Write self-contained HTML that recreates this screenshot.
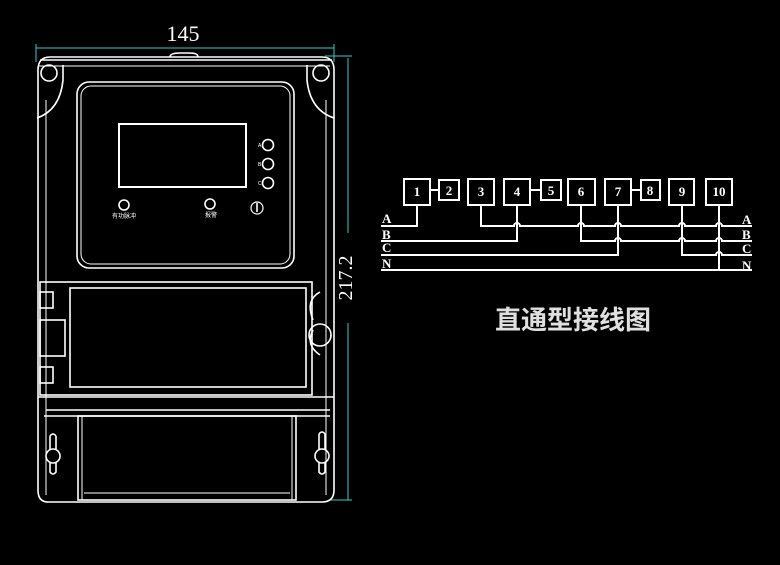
<!DOCTYPE html>
<html><head><meta charset="utf-8"><style>
html,body{margin:0;padding:0;background:#000;}
svg{display:block}
</style></head><body>
<svg width="780" height="565" viewBox="0 0 780 565" xmlns="http://www.w3.org/2000/svg">
<rect width="780" height="565" fill="#000"/>
<g stroke="#3cc" stroke-width="1" fill="none">
<line x1="36" y1="48" x2="334" y2="48"/>
<line x1="36" y1="44" x2="36" y2="62"/><line x1="334" y1="44" x2="334" y2="62"/>
<line x1="348" y1="58" x2="348" y2="233"/><line x1="348" y1="323" x2="348" y2="500"/>
<line x1="325" y1="56" x2="352" y2="56"/><line x1="330" y1="500" x2="352" y2="500"/>
</g>
<text x="183" y="41" font-family="Liberation Serif, serif" font-size="22" fill="#fff" text-anchor="middle">145</text>
<text transform="translate(352,278) rotate(-90)" font-family="Liberation Serif, serif" font-size="20" fill="#fff" text-anchor="middle">217.2</text>
<g stroke="#fff" stroke-width="1.6" fill="none">
<path d="M50 57 H322 Q334 57 334 70 V490 Q334 502 322 502 H48 Q38 502 38 490 V70 Q38 57 50 57Z"/>
<path d="M40 60 H332" />
<path d="M38 66 H330" stroke-width="1"/>
<line x1="46" y1="100" x2="46" y2="495" stroke-width="1"/>
<line x1="326" y1="100" x2="326" y2="495" stroke-width="1"/>
<path d="M37 118 Q60 110 63 80 V65" />
<path d="M334 118 Q310 110 307 80 V65" />
<circle cx="49" cy="73" r="8"/><circle cx="321" cy="73" r="8"/>
<path d="M170 57 Q170 53 180 53 H190 Q198 53 198 57"/>
<rect x="77" y="82" width="217" height="186" rx="12"/>
<rect x="81" y="86" width="209" height="178" rx="10" stroke-width="1"/>
<rect x="119" y="124" width="127" height="63" stroke-width="2"/>
<circle cx="268" cy="145" r="5.5"/><circle cx="268" cy="164" r="5.5"/><circle cx="268" cy="183" r="5.5"/>
<circle cx="124" cy="205" r="5"/><circle cx="210" cy="204" r="5"/>
<circle cx="257" cy="208" r="6" stroke-width="1.2"/><line x1="257" y1="203" x2="257" y2="212"/>
<rect x="40" y="282" width="272" height="113"/>
<rect x="70" y="288" width="236" height="99"/>
<path d="M320 292 Q305 300 313 320 M320 355 Q305 345 313 330"/>
<circle cx="320" cy="335" r="11"/>
<rect x="40" y="320" width="25" height="36"/>
<rect x="40" y="292" width="13" height="16"/><rect x="40" y="367" width="13" height="16"/>
<line x1="38" y1="397" x2="334" y2="397"/>
<line x1="46" y1="410" x2="330" y2="410"/>
<line x1="44" y1="416" x2="330" y2="416"/>
<rect x="78" y="416" width="218" height="84"/>
<line x1="82" y1="416" x2="82" y2="500" stroke-width="1"/><line x1="292" y1="416" x2="292" y2="500" stroke-width="1"/>
<line x1="84" y1="493" x2="290" y2="493" stroke-width="1"/>
<circle cx="53" cy="456" r="7"/><circle cx="322" cy="456" r="7"/>
<path d="M50 436 V449 M56 436 V449 M50 436 Q53 432 56 436 M50 463 V472 Q53 476 56 472 V463"/>
<path d="M319 434 V449 M325 434 V449 M319 434 Q322 430 325 434 M319 463 V472 Q322 476 325 472 V463"/>
</g>
<g fill="#fff" font-family="Liberation Sans, Noto Sans CJK SC, sans-serif" font-size="6">
<text x="112" y="218">有功脉冲</text><text x="205" y="217">报警</text>
<text x="258" y="147" font-size="5">A</text><text x="258" y="166" font-size="5">B</text><text x="258" y="185" font-size="5">C</text>
</g>
<g stroke="#fff" stroke-width="2" fill="none">
<rect x="404" y="179" width="26" height="26"/><rect x="439" y="180" width="20" height="20"/>
<rect x="468" y="179" width="26" height="26"/><rect x="504" y="179" width="26" height="26"/>
<rect x="541" y="180" width="20" height="20"/><rect x="568" y="179" width="27" height="26"/>
<rect x="605" y="179" width="26" height="26"/><rect x="641" y="180" width="19" height="20"/>
<rect x="669" y="179" width="25" height="26"/><rect x="706" y="179" width="26" height="26"/>
<line x1="430" y1="190" x2="439" y2="190"/><line x1="530" y1="190" x2="541" y2="190"/><line x1="631" y1="190" x2="641" y2="190"/>
<path d="M381 226 H417 V205"/>
<path d="M481 205 V226 H514 a3 3 0 0 1 6 0 H578 a3 3 0 0 1 6 0 H615 a3 3 0 0 1 6 0 H679 a3 3 0 0 1 6 0 H716 a3 3 0 0 1 6 0 H752"/>
<path d="M381 241 H517 V205"/>
<path d="M581 205 V241 H615 a3 3 0 0 1 6 0 H679 a3 3 0 0 1 6 0 H716 a3 3 0 0 1 6 0 H752"/>
<path d="M381 255 H618 V205"/>
<path d="M682 205 V255 H716 a3 3 0 0 1 6 0 H752"/>
<path d="M381 270 H752 M719 205 V270"/>
</g>
<g fill="#fff" font-family="Liberation Serif, serif" font-size="13" font-weight="bold" text-anchor="middle">
<text x="417" y="196">1</text>
<text x="449" y="195">2</text>
<text x="481" y="196">3</text>
<text x="517" y="196">4</text>
<text x="551" y="195">5</text>
<text x="581" y="196">6</text>
<text x="618" y="196">7</text>
<text x="650" y="195">8</text>
<text x="682" y="196">9</text>
<text x="719" y="196">10</text>
</g>
<g fill="#fff" font-family="Liberation Serif, serif" font-size="13" font-weight="bold">
<text x="382" y="223">A</text><text x="382" y="239">B</text><text x="382" y="252">C</text><text x="382" y="268">N</text>
<text x="742" y="224">A</text><text x="742" y="239">B</text><text x="742" y="253">C</text><text x="742" y="270">N</text>
</g>
<text x="573" y="329" font-family="Liberation Sans, Noto Sans CJK SC, sans-serif" font-size="26" font-weight="bold" fill="#e0e0e0" text-anchor="middle">直通型接线图</text>
</svg>
</body></html>
